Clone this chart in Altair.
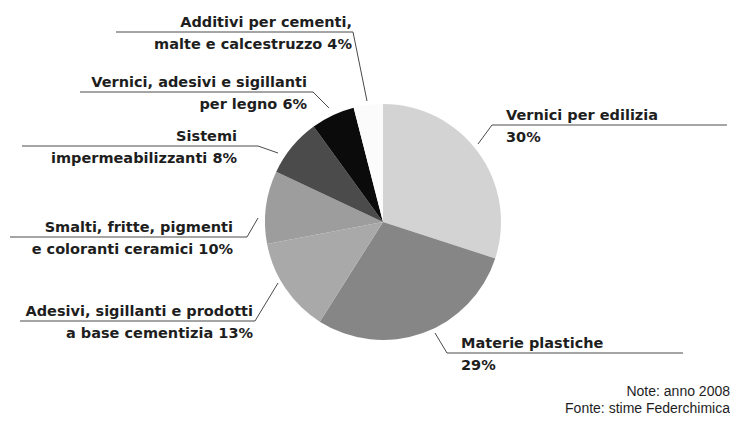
import altair as alt
import pandas as pd

# ---- data ----
categories = [
    "Vernici per edilizia",
    "Materie plastiche",
    "Adesivi, sigillanti e prodotti a base cementizia",
    "Smalti, fritte, pigmenti e coloranti ceramici",
    "Sistemi impermeabilizzanti",
    "Vernici, adesivi e sigillanti per legno",
    "Additivi per cementi, malte e calcestruzzo",
]
values = [30, 29, 13, 10, 8, 6, 4]
slice_colors = ["#d3d3d3", "#868686", "#a9a9a9", "#9d9d9d", "#4b4b4b", "#0b0b0b", "#fbfbfb"]

label_line1 = [
    "Vernici per edilizia",
    "Materie plastiche",
    "Adesivi, sigillanti e prodotti",
    "Smalti, fritte, pigmenti",
    "Sistemi",
    "Vernici, adesivi e sigillanti",
    "Additivi per cementi,",
]
label_line2 = [
    "30%",
    "29%",
    "a base cementizia 13%",
    "e coloranti ceramici 10%",
    "impermeabilizzanti 8%",
    "per legno 6%",
    "malte e calcestruzzo 4%",
]
notes = ["Note: anno 2008", "Fonte: stime Federchimica"]

# ---- layout (page pixel positions) ----
OFF = 8
W, H = 722, 408
pie_center = (383, 222)
pie_radius = 118
text_x = [506, 461, 253, 233, 237, 307, 352]
text_align = ["left", "left", "right", "right", "right", "right", "right"]
underline_y = [125, 353, 321, 237, 146, 92, 32]
underline_x_far = [727, 683, 20, 10, 22, 80, 116]
underline_x_near = [492, 447, 255, 247, 258, 313, 353]
leader_end = [(478, 144), (435, 333), (278, 283), (258, 218), (278, 153), (329, 108), (367, 101)]
note_x = 730
note_y = [395.5, 412.5]

FONT = "DejaVu Sans"
TEXT_COLOR = "#1e1e1e"
LINE_COLOR = "#4a4a4a"

# ---- tables ----
pie_df = pd.DataFrame({"cat": categories, "val": values, "idx": list(range(len(values)))})

text_rows = []
for i in range(len(categories)):
    uy = underline_y[i]
    text_rows.append({"t": label_line1[i], "x": text_x[i] - OFF, "y": uy - 5.5 - OFF, "al": text_align[i]})
    text_rows.append({"t": label_line2[i], "x": text_x[i] - OFF, "y": uy + 16.5 - OFF, "al": text_align[i]})
text_df = pd.DataFrame(text_rows)

line_rows = []
for i in range(len(categories)):
    uy = underline_y[i]
    pts = [(underline_x_far[i], uy), (underline_x_near[i], uy), leader_end[i]]
    for k, (px, py) in enumerate(pts):
        line_rows.append({"g": i, "o": k, "x": px - OFF, "y": py - OFF})
line_df = pd.DataFrame(line_rows)

note_df = pd.DataFrame({"t": notes, "x": [note_x - OFF] * 2, "y": [v - OFF for v in note_y]})

# ---- marks ----
pie = alt.Chart(pie_df).mark_arc(outerRadius=pie_radius).encode(
    theta=alt.Theta("val:Q", stack=True),
    order=alt.Order("idx:Q"),
    color=alt.Color("cat:N", scale=alt.Scale(domain=categories, range=slice_colors), legend=None),
    x=alt.value(pie_center[0] - OFF),
    y=alt.value(pie_center[1] - OFF),
)

lines = alt.Chart(line_df).mark_line(color=LINE_COLOR, strokeWidth=1).encode(
    x=alt.X("x:Q", scale=None),
    y=alt.Y("y:Q", scale=None),
    detail="g:N",
    order="o:Q",
)

def text_layer(align):
    return alt.Chart(text_df[text_df["al"] == align]).mark_text(
        align=align, baseline="alphabetic", font=FONT, fontWeight="bold",
        fontSize=14.5, color=TEXT_COLOR,
    ).encode(x=alt.X("x:Q", scale=None), y=alt.Y("y:Q", scale=None), text="t:N")

note_layer = alt.Chart(note_df).mark_text(
    align="right", baseline="alphabetic", font="Liberation Sans", fontSize=14, color=TEXT_COLOR,
).encode(x=alt.X("x:Q", scale=None), y=alt.Y("y:Q", scale=None), text="t:N")

chart = alt.layer(pie, lines, text_layer("left"), text_layer("right"), note_layer).properties(
    width=W, height=H, padding=0, background="white",
    autosize=alt.AutoSizeParams(type="none"),
).configure_view(stroke=None)

chart.save("out.html", embed_options={"renderer": "svg", "actions": False})
